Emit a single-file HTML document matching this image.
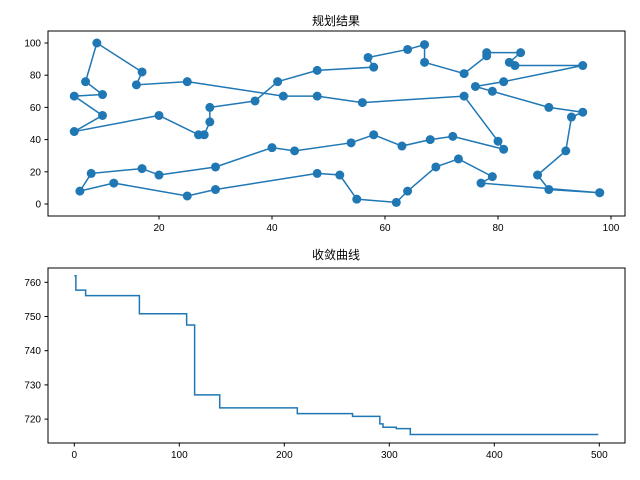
<!DOCTYPE html>
<html><head><meta charset="utf-8"><style>
body{margin:0;background:#fff;}
svg{display:block;font-family:"Liberation Sans","Noto Sans CJK SC",sans-serif;}
</style></head><body>
<svg id="fig" width="640" height="480" xmlns="http://www.w3.org/2000/svg">
<rect width="640" height="480" fill="#fff"/>
<g id="top"></g>
<g id="bot"></g>
</svg>
<script>
const routeX=[98,89,87,92,93,95,89,79,76,81,95,83,82,84,78,78,74,67,67,64,57,58,48,41,37,29,29,28,27,20,5,10,5,10,7,9,17,16,25,42,48,56,74,80,81,72,68,63,58,54,44,40,30,20,17,8,6,12,25,30,48,52,55,62,64,69,73,79,77,98];
const routeY=[7,9,18,33,54,57,60,70,73,76,86,86,88,94,94,92,81,88,99,96,91,85,83,76,64,60,51,43,43,55,45,55,67,68,76,100,82,74,76,67,67,63,67,39,34,42,40,36,43,38,33,35,23,18,22,19,8,13,5,9,19,18,3,1,8,23,28,17,13,7];
const topXTicks=[20,40,60,80,100];
const topYTicks=[0,20,40,60,80,100];
const convIter=[0,1.5,10.8,62,107,114.6,138.5,212.4,265,291,294,306.6,320,499];
const convVal=[761.9,757.7,756.1,750.8,747.5,727.1,723.3,721.6,720.8,718.6,717.6,717.2,715.5,715.5];
const botXTicks=[0,100,200,300,400,500];
const botYTicks=[720,730,740,750,760];

const NS='http://www.w3.org/2000/svg';
function mk(p,t,a){const e=document.createElementNS(NS,t);for(const k in a)e.setAttribute(k,a[k]);p.appendChild(e);return e;}
const C='#1f77b4';

// top
const T=document.getElementById('top');
const tx=v=>46+5.65*v, ty=v=>204-1.61*v;
let d='';
routeX.forEach((x,i)=>{d+=(i?'L':'M')+tx(x)+' '+ty(routeY[i]);});
let l=mk(T,'path',{d:d,fill:'none',stroke:C,'stroke-width':1.5});


routeX.forEach((x,i)=>{const c=mk(T,'circle',{cx:tx(x),cy:ty(routeY[i]),r:4.5,fill:C});

});
let f=mk(T,'rect',{x:48,y:31,width:577,height:185,fill:'none',stroke:'#000','stroke-width':1});


topXTicks.forEach(v=>{mk(T,'line',{x1:tx(v),x2:tx(v),y1:216,y2:219.5,stroke:'#000'});
const t=mk(T,'text',{x:tx(v),y:231,'font-size':10,'text-anchor':'middle'});t.textContent=v;

});
topYTicks.forEach(v=>{mk(T,'line',{x1:44.5,x2:48,y1:ty(v),y2:ty(v),stroke:'#000'});
const t=mk(T,'text',{x:41,y:ty(v)+3.5,'font-size':10,'text-anchor':'end'});t.textContent=v;

});
let tt=mk(T,'text',{x:336,y:25,'font-size':12,'text-anchor':'middle'});tt.textContent='规划结果';



// bottom
const B=document.getElementById('bot');
const bx=v=>74.3+1.05*v, by=v=>282.3+(760-v)*3.42;
d='';
convIter.forEach((x,i)=>{if(i===0)d+='M'+bx(x)+' '+by(convVal[0]);else{d+='L'+bx(x)+' '+by(convVal[i-1])+'L'+bx(x)+' '+by(convVal[i]);}});
let cl=mk(B,'path',{d:d,fill:'none',stroke:C,'stroke-width':1.5});


let f2=mk(B,'rect',{x:48,y:268,width:577,height:175,fill:'none',stroke:'#000','stroke-width':1});


botXTicks.forEach(v=>{mk(B,'line',{x1:bx(v),x2:bx(v),y1:443,y2:446.5,stroke:'#000'});
const t=mk(B,'text',{x:bx(v),y:458,'font-size':10,'text-anchor':'middle'});t.textContent=v;

});
botYTicks.forEach(v=>{mk(B,'line',{x1:44.5,x2:48,y1:by(v),y2:by(v),stroke:'#000'});
const t=mk(B,'text',{x:41,y:by(v)+3.5,'font-size':10,'text-anchor':'end'});t.textContent=v;

});
let bt=mk(B,'text',{x:336,y:259,'font-size':12,'text-anchor':'middle'});bt.textContent='收敛曲线';


</script>
</body></html>
